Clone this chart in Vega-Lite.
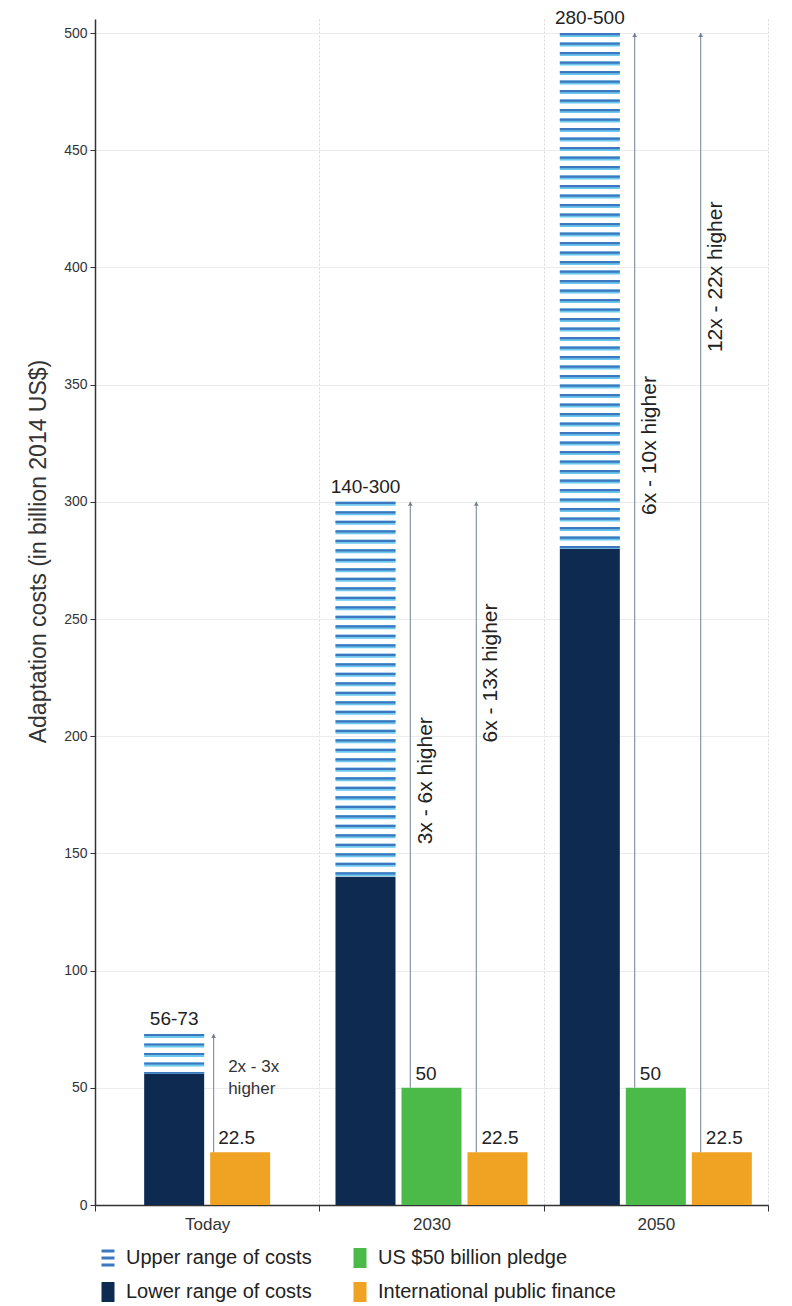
{
  "$schema": "https://vega.github.io/schema/vega-lite/v6.json",
  "width": 673,
  "height": 1186,
  "autosize": {"type": "none"},
  "padding": {"left": 95, "top": 19, "right": 24, "bottom": 101},
  "background": "white",
  "datasets": {
    "bars": [
      {"period": "Today", "series": "Lower range of costs", "value": 56},
      {"period": "Today", "series": "International public finance", "value": 22.5},
      {"period": "2030", "series": "Lower range of costs", "value": 140},
      {"period": "2030", "series": "US $50 billion pledge", "value": 50},
      {"period": "2030", "series": "International public finance", "value": 22.5},
      {"period": "2050", "series": "Lower range of costs", "value": 280},
      {"period": "2050", "series": "US $50 billion pledge", "value": 50},
      {"period": "2050", "series": "International public finance", "value": 22.5}
    ],
    "ranges": [
      {"period": "Today", "series": "Lower range of costs", "low": 56, "high": 73, "label": "56-73"},
      {"period": "2030", "series": "Lower range of costs", "low": 140, "high": 300, "label": "140-300"},
      {"period": "2050", "series": "Lower range of costs", "low": 280, "high": 500, "label": "280-500"}
    ],
    "arrows": [
      {"period": "Today", "series": "International public finance", "from": 22.5, "to": 73, "note": "2x - 3x\nhigher", "noteY": 59},
      {"period": "2030", "series": "US $50 billion pledge", "from": 50, "to": 300, "note": "3x - 6x higher", "noteY": 181},
      {"period": "2030", "series": "International public finance", "from": 22.5, "to": 300, "note": "6x - 13x higher", "noteY": 227},
      {"period": "2050", "series": "US $50 billion pledge", "from": 50, "to": 500, "note": "6x - 10x higher", "noteY": 324},
      {"period": "2050", "series": "International public finance", "from": 22.5, "to": 500, "note": "12x - 22x higher", "noteY": 396}
    ]
  },
  "layer": [
    {
      "layer": [
        {
          "data": {"name": "bars"},
          "transform": [{"filter": "datum.period === 'Today'"}],
          "mark": {"type": "bar"},
          "encoding": {
            "x": {"field": "period", "type": "nominal", "scale": {"domain": ["Today", "2030", "2050"], "paddingInner": 0, "paddingOuter": 0}, "title": null},
            "xOffset": {"field": "series", "type": "nominal", "scale": {"domain": ["Lower range of costs", "International public finance"], "paddingInner": 0.0909, "paddingOuter": 0.745}},
            "y": {"field": "value", "type": "quantitative", "scale": {"domain": [0, 506], "nice": false}, "title": "Adaptation costs (in billion 2014 US$)"},
            "color": {
              "field": "series", "type": "nominal",
              "scale": {"domain": ["Upper range of costs", "US $50 billion pledge", "Lower range of costs", "International public finance"], "range": ["#3b78bf", "#4cba48", "#0e2a50", "#f0a323"]},
              "legend": {
                "title": null, "orient": "none", "legendX": 3, "legendY": 1229, "direction": "horizontal", "columns": 2, "columnPadding": 38, "rowPadding": 14,
                "symbolSize": 400, "labelFontSize": 20, "labelFont": "Liberation Sans", "labelColor": "#222", "labelOffset": 8, "labelLimit": 400,
                "symbolStrokeWidth": 0,
                "encode": {"symbols": {"update": {"shape": {"signal": "datum.value === 'Upper range of costs' ? 'M-0.65,-0.85H0.65V-0.55H-0.65Z M-0.65,-0.15H0.65V0.15H-0.65Z M-0.65,0.55H0.65V0.85H-0.65Z' : 'M-0.65,-1H0.65V1H-0.65Z'"}}}}
              }
            }
          }
        },
        {
          "data": {"name": "ranges"},
          "transform": [{"filter": "datum.period === 'Today'"}],
          "mark": {"type": "rule", "strokeWidth": 60, "strokeDash": [4, 5.5], "color": "#6cc8ee", "strokeCap": "butt"},
          "encoding": {
            "x": {"field": "period", "type": "nominal", "scale": {"domain": ["Today", "2030", "2050"], "paddingInner": 0, "paddingOuter": 0}, "title": null},
            "xOffset": {"field": "series", "type": "nominal", "scale": {"domain": ["Lower range of costs", "International public finance"], "paddingInner": 0.0909, "paddingOuter": 0.745}},
            "y": {"field": "high", "type": "quantitative", "scale": {"domain": [0, 506], "nice": false}, "title": "Adaptation costs (in billion 2014 US$)"},
            "y2": {"field": "low"}
          }
        },
        {
          "data": {"name": "ranges"},
          "transform": [{"filter": "datum.period === 'Today'"}],
          "mark": {"type": "rule", "strokeWidth": 60, "strokeDash": [2.2, 7.3], "color": "#3b78bf", "strokeCap": "butt"},
          "encoding": {
            "x": {"field": "period", "type": "nominal", "scale": {"domain": ["Today", "2030", "2050"], "paddingInner": 0, "paddingOuter": 0}, "title": null},
            "xOffset": {"field": "series", "type": "nominal", "scale": {"domain": ["Lower range of costs", "International public finance"], "paddingInner": 0.0909, "paddingOuter": 0.745}},
            "y": {"field": "high", "type": "quantitative", "scale": {"domain": [0, 506], "nice": false}, "title": "Adaptation costs (in billion 2014 US$)"},
            "y2": {"field": "low"}
          }
        },
        {
          "data": {"name": "ranges"},
          "transform": [{"filter": "datum.period === 'Today'"}],
          "mark": {"type": "text", "fontSize": 19, "font": "Liberation Sans", "color": "#222", "align": "center", "baseline": "alphabetic", "dy": -9},
          "encoding": {
            "x": {"field": "period", "type": "nominal", "scale": {"domain": ["Today", "2030", "2050"], "paddingInner": 0, "paddingOuter": 0}, "title": null},
            "xOffset": {"field": "series", "type": "nominal", "scale": {"domain": ["Lower range of costs", "International public finance"], "paddingInner": 0.0909, "paddingOuter": 0.745}},
            "y": {"field": "high", "type": "quantitative", "scale": {"domain": [0, 506], "nice": false}, "title": "Adaptation costs (in billion 2014 US$)"},
            "text": {"field": "label"}
          }
        },
        {
          "data": {"name": "arrows"},
          "transform": [{"filter": "datum.period === 'Today'"}],
          "mark": {"type": "text", "fontSize": 17, "font": "Liberation Sans", "color": "#333", "align": "left", "baseline": "middle", "lineBreak": "\n", "lineHeight": 22, "dx": -12},
          "encoding": {
            "x": {"field": "period", "type": "nominal", "scale": {"domain": ["Today", "2030", "2050"], "paddingInner": 0, "paddingOuter": 0}, "title": null},
            "xOffset": {"field": "series", "type": "nominal", "scale": {"domain": ["Lower range of costs", "International public finance"], "paddingInner": 0.0909, "paddingOuter": 0.745}},
            "y": {"field": "noteY", "type": "quantitative", "scale": {"domain": [0, 506], "nice": false}, "title": "Adaptation costs (in billion 2014 US$)"},
            "text": {"field": "note"}
          }
        },
        {
          "data": {"name": "bars"},
          "transform": [{"filter": "datum.period === 'Today' && datum.series !== 'Lower range of costs'"}],
          "mark": {"type": "text", "fontSize": 19, "font": "Liberation Sans", "color": "#222", "align": "left", "baseline": "alphabetic", "dy": -8, "dx": -22},
          "encoding": {
            "x": {"field": "period", "type": "nominal", "scale": {"domain": ["Today", "2030", "2050"], "paddingInner": 0, "paddingOuter": 0}, "title": null},
            "xOffset": {"field": "series", "type": "nominal", "scale": {"domain": ["Lower range of costs", "International public finance"], "paddingInner": 0.0909, "paddingOuter": 0.745}},
            "y": {"field": "value", "type": "quantitative", "scale": {"domain": [0, 506], "nice": false}, "title": "Adaptation costs (in billion 2014 US$)"},
            "text": {"field": "value"}
          }
        }
      ]
    },
    {
      "layer": [
        {
          "data": {"name": "bars"},
          "transform": [{"filter": "datum.period !== 'Today'"}],
          "mark": {"type": "bar"},
          "encoding": {
            "x": {"field": "period", "type": "nominal", "scale": {"domain": ["Today", "2030", "2050"], "paddingInner": 0, "paddingOuter": 0}, "title": null},
            "xOffset": {"field": "series", "type": "nominal", "scale": {"domain": ["Lower range of costs", "US $50 billion pledge", "International public finance"], "paddingInner": 0.0909, "paddingOuter": 0.245}},
            "y": {"field": "value", "type": "quantitative", "scale": {"domain": [0, 506], "nice": false}, "title": "Adaptation costs (in billion 2014 US$)"},
            "color": {
              "field": "series", "type": "nominal",
              "scale": {"domain": ["Upper range of costs", "US $50 billion pledge", "Lower range of costs", "International public finance"], "range": ["#3b78bf", "#4cba48", "#0e2a50", "#f0a323"]},
              "legend": {
                "title": null, "orient": "none", "legendX": 3, "legendY": 1229, "direction": "horizontal", "columns": 2, "columnPadding": 38, "rowPadding": 14,
                "symbolSize": 400, "labelFontSize": 20, "labelFont": "Liberation Sans", "labelColor": "#222", "labelOffset": 8, "labelLimit": 400,
                "symbolStrokeWidth": 0,
                "encode": {"symbols": {"update": {"shape": {"signal": "datum.value === 'Upper range of costs' ? 'M-0.65,-0.85H0.65V-0.55H-0.65Z M-0.65,-0.15H0.65V0.15H-0.65Z M-0.65,0.55H0.65V0.85H-0.65Z' : 'M-0.65,-1H0.65V1H-0.65Z'"}}}}
              }
            }
          }
        },
        {
          "data": {"name": "ranges"},
          "transform": [{"filter": "datum.period !== 'Today'"}],
          "mark": {"type": "rule", "strokeWidth": 60, "strokeDash": [4, 5.5], "color": "#6cc8ee", "strokeCap": "butt"},
          "encoding": {
            "x": {"field": "period", "type": "nominal", "scale": {"domain": ["Today", "2030", "2050"], "paddingInner": 0, "paddingOuter": 0}, "title": null},
            "xOffset": {"field": "series", "type": "nominal", "scale": {"domain": ["Lower range of costs", "US $50 billion pledge", "International public finance"], "paddingInner": 0.0909, "paddingOuter": 0.245}},
            "y": {"field": "high", "type": "quantitative", "scale": {"domain": [0, 506], "nice": false}, "title": "Adaptation costs (in billion 2014 US$)"},
            "y2": {"field": "low"}
          }
        },
        {
          "data": {"name": "ranges"},
          "transform": [{"filter": "datum.period !== 'Today'"}],
          "mark": {"type": "rule", "strokeWidth": 60, "strokeDash": [2.2, 7.3], "color": "#3b78bf", "strokeCap": "butt"},
          "encoding": {
            "x": {"field": "period", "type": "nominal", "scale": {"domain": ["Today", "2030", "2050"], "paddingInner": 0, "paddingOuter": 0}, "title": null},
            "xOffset": {"field": "series", "type": "nominal", "scale": {"domain": ["Lower range of costs", "US $50 billion pledge", "International public finance"], "paddingInner": 0.0909, "paddingOuter": 0.245}},
            "y": {"field": "high", "type": "quantitative", "scale": {"domain": [0, 506], "nice": false}, "title": "Adaptation costs (in billion 2014 US$)"},
            "y2": {"field": "low"}
          }
        },
        {
          "data": {"name": "ranges"},
          "transform": [{"filter": "datum.period !== 'Today'"}],
          "mark": {"type": "text", "fontSize": 19, "font": "Liberation Sans", "color": "#222", "align": "center", "baseline": "alphabetic", "dy": -9},
          "encoding": {
            "x": {"field": "period", "type": "nominal", "scale": {"domain": ["Today", "2030", "2050"], "paddingInner": 0, "paddingOuter": 0}, "title": null},
            "xOffset": {"field": "series", "type": "nominal", "scale": {"domain": ["Lower range of costs", "US $50 billion pledge", "International public finance"], "paddingInner": 0.0909, "paddingOuter": 0.245}},
            "y": {"field": "high", "type": "quantitative", "scale": {"domain": [0, 506], "nice": false}, "title": "Adaptation costs (in billion 2014 US$)"},
            "text": {"field": "label"}
          }
        },
        {
          "data": {"name": "arrows"},
          "transform": [{"filter": "datum.period !== 'Today'"}],
          "mark": {"type": "text", "fontSize": 21, "font": "Liberation Sans", "color": "#222", "align": "center", "baseline": "middle", "angle": 270, "dy": -6},
          "encoding": {
            "x": {"field": "period", "type": "nominal", "scale": {"domain": ["Today", "2030", "2050"], "paddingInner": 0, "paddingOuter": 0}, "title": null},
            "xOffset": {"field": "series", "type": "nominal", "scale": {"domain": ["Lower range of costs", "US $50 billion pledge", "International public finance"], "paddingInner": 0.0909, "paddingOuter": 0.245}},
            "y": {"field": "noteY", "type": "quantitative", "scale": {"domain": [0, 506], "nice": false}, "title": "Adaptation costs (in billion 2014 US$)"},
            "text": {"field": "note"}
          }
        },
        {
          "data": {"name": "bars"},
          "transform": [{"filter": "datum.period !== 'Today' && datum.series !== 'Lower range of costs'"}],
          "mark": {"type": "text", "fontSize": 19, "font": "Liberation Sans", "color": "#222", "align": "left", "baseline": "alphabetic", "dy": -8, "dx": -16},
          "encoding": {
            "x": {"field": "period", "type": "nominal", "scale": {"domain": ["Today", "2030", "2050"], "paddingInner": 0, "paddingOuter": 0}, "title": null},
            "xOffset": {"field": "series", "type": "nominal", "scale": {"domain": ["Lower range of costs", "US $50 billion pledge", "International public finance"], "paddingInner": 0.0909, "paddingOuter": 0.245}},
            "y": {"field": "value", "type": "quantitative", "scale": {"domain": [0, 506], "nice": false}, "title": "Adaptation costs (in billion 2014 US$)"},
            "text": {"field": "value"}
          }
        }
      ]
    },
    {
      "layer": [
        {
          "data": {"name": "arrows"},
          "transform": [{"filter": "datum.period === 'Today'"}],
          "mark": {"type": "rule", "strokeWidth": 1.2, "color": "#8796a6"},
          "encoding": {
            "x": {"field": "period", "type": "nominal", "scale": {"domain": ["Today", "2030", "2050"], "paddingInner": 0, "paddingOuter": 0}, "title": null},
            "xOffset": {"field": "series", "type": "nominal", "scale": {"domain": ["International public finance"], "paddingInner": 0, "paddingOuter": 1.1995, "align": 0.543}},
            "y": {"field": "from", "type": "quantitative", "scale": {"domain": [0, 506], "nice": false}, "title": "Adaptation costs (in billion 2014 US$)"},
            "y2": {"field": "to"}
          }
        },
        {
          "data": {"name": "arrows"},
          "transform": [{"filter": "datum.period === 'Today'"}],
          "mark": {"type": "point", "shape": "triangle-up", "filled": true, "size": 22, "color": "#6f7f90", "opacity": 1, "yOffset": 2},
          "encoding": {
            "x": {"field": "period", "type": "nominal", "scale": {"domain": ["Today", "2030", "2050"], "paddingInner": 0, "paddingOuter": 0}, "title": null},
            "xOffset": {"field": "series", "type": "nominal", "scale": {"domain": ["International public finance"], "paddingInner": 0, "paddingOuter": 1.1995, "align": 0.543}},
            "y": {"field": "to", "type": "quantitative", "scale": {"domain": [0, 506], "nice": false}, "title": "Adaptation costs (in billion 2014 US$)"}
          }
        }
      ]
    },
    {
      "layer": [
        {
          "data": {"name": "arrows"},
          "transform": [{"filter": "datum.period !== 'Today'"}],
          "mark": {"type": "rule", "strokeWidth": 1.2, "color": "#8796a6"},
          "encoding": {
            "x": {"field": "period", "type": "nominal", "scale": {"domain": ["Today", "2030", "2050"], "paddingInner": 0, "paddingOuter": 0}, "title": null},
            "xOffset": {"field": "series", "type": "nominal", "scale": {"domain": ["US $50 billion pledge", "International public finance"], "paddingInner": 0, "paddingOuter": 0.6995, "align": 0.628}},
            "y": {"field": "from", "type": "quantitative", "scale": {"domain": [0, 506], "nice": false}, "title": "Adaptation costs (in billion 2014 US$)"},
            "y2": {"field": "to"}
          }
        },
        {
          "data": {"name": "arrows"},
          "transform": [{"filter": "datum.period !== 'Today'"}],
          "mark": {"type": "point", "shape": "triangle-up", "filled": true, "size": 22, "color": "#6f7f90", "opacity": 1, "yOffset": 2},
          "encoding": {
            "x": {"field": "period", "type": "nominal", "scale": {"domain": ["Today", "2030", "2050"], "paddingInner": 0, "paddingOuter": 0}, "title": null},
            "xOffset": {"field": "series", "type": "nominal", "scale": {"domain": ["US $50 billion pledge", "International public finance"], "paddingInner": 0, "paddingOuter": 0.6995, "align": 0.628}},
            "y": {"field": "to", "type": "quantitative", "scale": {"domain": [0, 506], "nice": false}, "title": "Adaptation costs (in billion 2014 US$)"}
          }
        }
      ]
    },
    {
      "mark": {"type": "point", "shape": "triangle-up", "filled": true, "size": 70, "color": "#222", "opacity": 1},
      "encoding": {
        "x": {"datum": "Today", "type": "nominal", "bandPosition": 0, "scale": {"domain": ["Today", "2030", "2050"], "paddingInner": 0, "paddingOuter": 0}, "title": null},
        "y": {"datum": 506, "type": "quantitative", "scale": {"domain": [0, 506], "nice": false}, "title": "Adaptation costs (in billion 2014 US$)"}
      }
    },
    {
      "mark": {"type": "point", "shape": "triangle-right", "filled": true, "size": 70, "color": "#222", "opacity": 1, "xOffset": 5},
      "encoding": {
        "x": {"datum": "2050", "type": "nominal", "bandPosition": 1, "scale": {"domain": ["Today", "2030", "2050"], "paddingInner": 0, "paddingOuter": 0}, "title": null},
        "y": {"datum": 0, "type": "quantitative", "scale": {"domain": [0, 506], "nice": false}, "title": "Adaptation costs (in billion 2014 US$)"}
      }
    }
  ],
  "resolve": {"scale": {"xOffset": "independent"}},
  "config": {
    "view": {"stroke": null},
    "font": "Liberation Sans",
    "axisX": {
      "domainColor": "#333", "domainWidth": 1.5, "tickBand": "extent", "tickSize": 6, "tickColor": "#333",
      "grid": true, "gridColor": "#d8d8d8", "gridDash": [2, 2], "labelFontSize": 17, "labelColor": "#333",
      "labelPadding": 5, "labelAngle": 0, "labelFont": "Liberation Sans"
    },
    "axisY": {
      "domainColor": "#333", "domainWidth": 1.5, "tickSize": 5, "tickColor": "#333", "tickCount": 10,
      "grid": true, "gridColor": "#ececec", "labelFontSize": 14, "labelColor": "#333", "labelPadding": 3,
      "labelFont": "Liberation Sans", "titleFont": "Liberation Sans", "titleFontSize": 23, "titleFontWeight": "normal",
      "titleColor": "#333", "titleX": -45, "titleY": 532, "titleAngle": 270, "titleAlign": "center", "titleBaseline": "bottom"
    }
  }
}
